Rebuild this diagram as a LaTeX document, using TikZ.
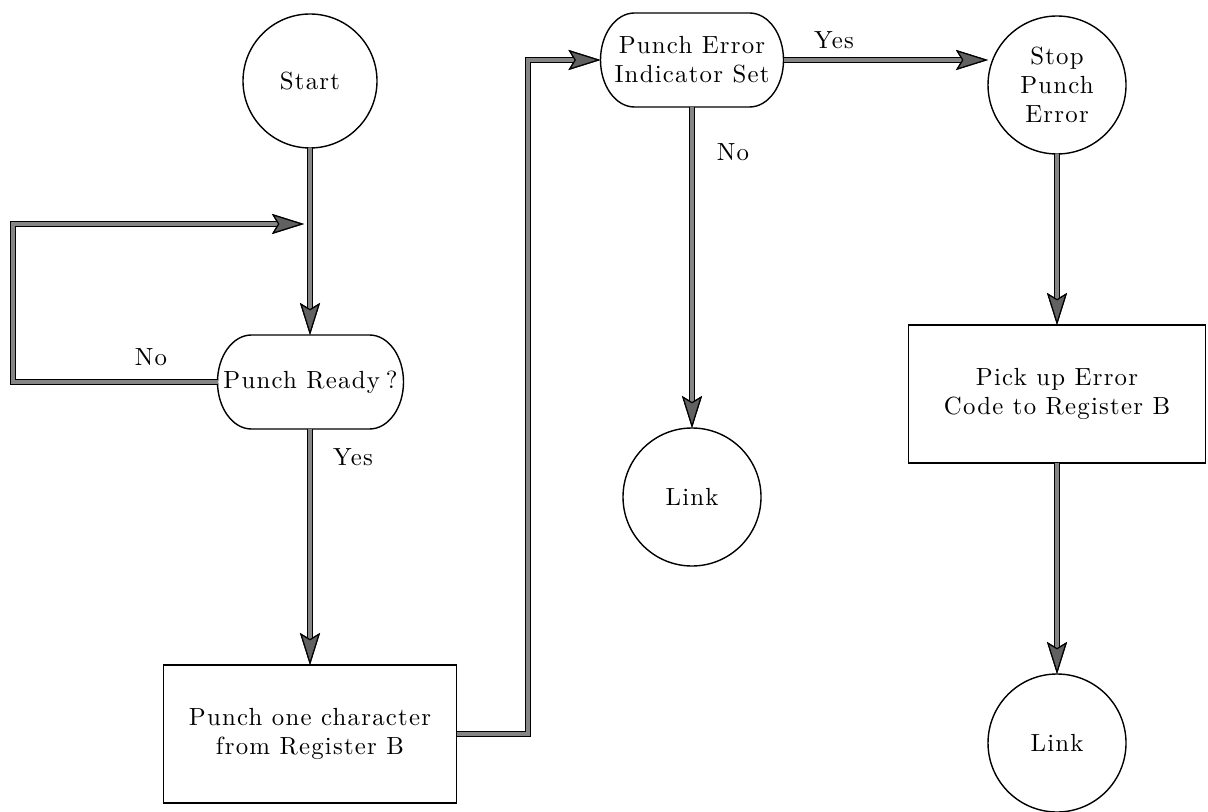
\documentclass[tikz,border=0pt]{standalone}
\usepackage{fontspec}
\newfontfamily\chartfont{lmroman10-regular.otf}[LetterSpace=5]
\usetikzlibrary{arrows.meta}
\tikzset{
  flowtip/.tip={Stealth[length=16pt,width=10pt,inset=3pt,line width=0.6pt,color=black,fill=black!62]},
  txt/.style={font=\chartfont\fontsize{12.4}{14.5}\selectfont,
    align=center, inner sep=0pt, outer sep=0pt},
  term/.style={txt, draw, line width=0.7pt, circle, minimum size=#1},
  term/.default=69pt,
  proc/.style={txt, draw, line width=0.7pt, minimum width=#1, minimum height=69pt},
  decide/.style={txt, minimum width=#1, minimum height=47pt},
  flow/.style={draw=black, line width=3.2pt, line join=miter, -{flowtip},
    postaction={draw=black!48, line width=1.6pt, -{flowtip}}},
  lbl/.style={txt}
}
% decision outline: straight top and bottom, half-ellipse ends
\newcommand\stadiumoutline[1]{%
  \draw[line width=0.7pt]
    ([xshift=17pt]#1.north west) -- ([xshift=-17pt]#1.north east)
    arc[start angle=90, end angle=-90, x radius=17pt, y radius=23.5pt]
    -- ([xshift=17pt]#1.south west)
    arc[start angle=270, end angle=90, x radius=17pt, y radius=23.5pt]
    -- cycle;}
\begin{document}
\begin{tikzpicture}[x=0.5pt, y=-0.5pt]
\useasboundingbox[fill=white] (0,0) rectangle (1208,812);

% nodes
\node[term=67pt] (start) at (310,81) {Start};
\node[decide=93pt] (ready) at (310.5,382) {Punch Ready\kern3pt?};
\stadiumoutline{ready}
\node[proc=146.5pt] (punch) at (310,734) {Punch one character\\from Register B};
\node[decide=91.5pt] (err) at (692,60) {Punch Error\\Indicator Set};
\stadiumoutline{err}
\node[term] (link1) at (692,497) {Link};
\node[term] (stop) at (1057,85) {Stop\\Punch\\Error};
\node[proc=148.5pt] (pick) at (1057,394) {Pick up Error\\Code to Register B};
\node[term] (link2) at (1057,743) {Link};

% helper points for the bent connectors
\coordinate (loopL) at (13,224);
\coordinate (loopT) at (304,224);
\coordinate (jog) at (528,400);

% connectors
\draw[flow] (start) -- (start |- ready.north);
\draw[flow] (ready.west) -| (loopL) -- (loopT);
\draw[flow] (start |- ready.south) -- (punch);
\draw[flow] (punch.east) -| (jog) |- (err.west);
\draw[flow] (err.east) -- (stop.west |- err.east);
\draw[flow] (err) -- (link1);
\draw[flow] (stop) -- (pick);
\draw[flow] (pick) -- (link2);

% branch labels
\node[lbl] (noA) at (151,357) {No};
\node[lbl] (yesA) at (353,457) {Yes};
\node[lbl] (noB) at (733,152) {No};
\node[lbl] (yesB) at (834,40) {Yes};
\end{tikzpicture}
\end{document}
